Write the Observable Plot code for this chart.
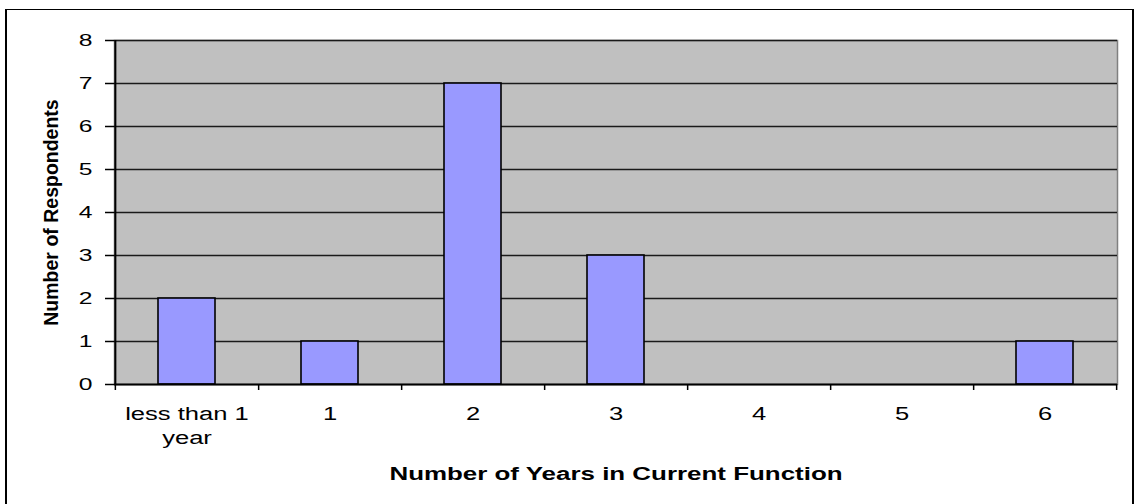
<!DOCTYPE html>
<html>
<head>
<meta charset="utf-8">
<script src="https://cdn.jsdelivr.net/npm/d3@7"></script>
<script src="https://cdn.jsdelivr.net/npm/@observablehq/plot@0.6"></script>
<style>
  html, body { margin: 0; padding: 0; background: #fff; overflow: hidden; }
  #wrap { position: relative; width: 1135px; height: 504px; }
  #border { position: absolute; left: 5px; top: 9px; width: 1125px; height: 600px;
            border-left: 2px solid #000; border-top: 1.5px solid #000; border-right: 2px solid #000; }
  #chart { position: absolute; left: 0; top: 0; }
</style>
</head>
<body>
<div id="wrap"><div id="border"></div><div id="chart"></div></div>
<script>
const categories = ["less than 1 year", "1", "2", "3", "4", "5", "6"];
const tickLabels = ["less than 1\nyear", "1", "2", "3", "4", "5", "6"];
const counts = [2, 1, 7, 3, 0, 0, 1];
const yTicks = [0, 1, 2, 3, 4, 5, 6, 7, 8];
const xTitle = "Number of Years in Current Function";
const yTitle = "Number of Respondents";

const data = categories.map((c, i) => ({cat: c, count: counts[i]}));

const W = 1135, H = 504, mL = 114, mR = 18, mT = 40, mB = 120;
const step = (W - mL - mR) / categories.length;

const chart = Plot.plot({
  width: W, height: H,
  marginLeft: mL, marginRight: mR, marginTop: mT, marginBottom: mB,
  style: {fontFamily: "'Liberation Sans', Arial, sans-serif", background: "transparent", color: "#000", overflow: "visible"},
  x: {domain: categories, paddingInner: 0.6, paddingOuter: 0.3, label: null},
  y: {domain: [0, 8], label: null},
  marks: [
    Plot.frame({fill: "#C0C0C0", stroke: "#808080", strokeWidth: 1.5}),
    Plot.ruleY(yTicks.filter(d => d > 0), {stroke: "#1a1a1a", strokeWidth: 1.5}),
    Plot.barY(data.filter(d => d.count > 0), {x: "cat", y: "count", fill: "#9999FF", stroke: "#000", strokeWidth: 1.6}),
    Plot.ruleY([0], {stroke: "#000", strokeWidth: 2}),
    Plot.ruleX([categories[0]], {dx: -step / 2, stroke: "#000", strokeWidth: 2}),
    Plot.axisY({ticks: yTicks, tickSize: 9, tickPadding: 13, fontSize: 17, strokeWidth: 1.5}),
    Plot.axisX({tickSize: 0, tickPadding: 18, fontSize: 18, lineHeight: 1.36,
                tickFormat: d => tickLabels[categories.indexOf(d)]}),
    Plot.axisX({tickSize: 6, text: null, dx: step / 2, strokeWidth: 1.5}),
    Plot.axisX({ticks: [categories[0]], tickSize: 6, text: null, dx: -step / 2, strokeWidth: 1.5}),
    Plot.text([xTitle], {frameAnchor: "bottom", textAnchor: "middle", lineAnchor: "bottom", dy: 95,
                         fontSize: 18, fontWeight: "bold"}),
    Plot.text([yTitle], {frameAnchor: "left", textAnchor: "middle", rotate: -90, lineAnchor: "bottom",
                         dx: -57, fontSize: 19.5, fontWeight: "bold"})
  ]
});

document.getElementById("chart").appendChild(chart);

// horizontal glyph stretch like the reference rendering
function stretchEl(el, k) {
  const L = el.getComputedTextLength();
  if (L > 0) {
    el.setAttribute("textLength", (L * k).toFixed(2));
    el.setAttribute("lengthAdjust", "spacingAndGlyphs");
  }
}
function stretch(selector, k) {
  chart.querySelectorAll(selector).forEach(t => {
    const spans = t.querySelectorAll("tspan");
    (spans.length ? Array.from(spans) : [t]).forEach(el => stretchEl(el, k));
  });
}
stretch('g[aria-label="x-axis tick label"] text', 1.42);
stretch('g[aria-label="y-axis tick label"] text', 1.45);
chart.querySelectorAll("text").forEach(t => { if (t.textContent === xTitle) stretchEl(t, 1.44); });
</script>
</body>
</html>
